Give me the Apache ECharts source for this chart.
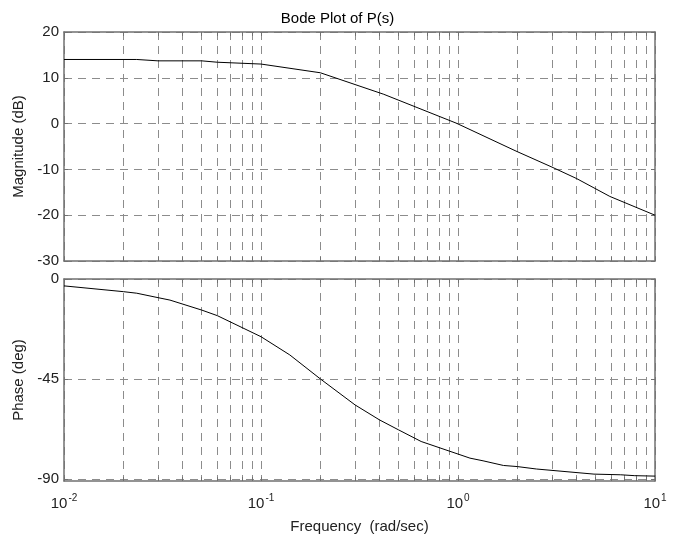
<!DOCTYPE html>
<html lang="en">
<head>
    <meta charset="UTF-8"/>
    <title>Bode Plot of P(s)</title>
    <script src="https://cdn.jsdelivr.net/npm/echarts@6/dist/echarts.min.js"></script>
    <style>
        html, body { margin: 0; padding: 0; background: #fff; }
    </style>
</head>
<body>

<div id="main" style="width: 675px;height:537px;"></div>

<script type="text/javascript">
    // values
    var magFreq = [0.01, 0.0234, 0.03, 0.05, 0.06, 0.1, 0.2, 0.42, 0.98, 1.97, 3.0, 4.0, 5.9, 10];
    var magDb = [14.0, 14.0, 13.7, 13.7, 13.4, 13.0, 11.1, 6.4, 0.1, -6.0, -9.5, -12.0, -15.9, -20.0];

    var phaseFreq = [0.01, 0.02, 0.0234, 0.03, 0.0345, 0.05, 0.06, 0.1, 0.14, 0.2, 0.3, 0.4, 0.5, 0.65,
        1.15, 1.34, 1.7, 2.0, 2.5, 4.9, 6.7, 7.9, 10];
    var phaseDeg = [-3.1, -5.7, -6.4, -8.4, -9.5, -14.0, -16.5, -26.0, -34.2, -45.0, -56.7, -63.5, -68.0, -73.2,
        -80.7, -81.9, -84.0, -84.5, -85.6, -87.9, -88.2, -88.6, -88.8];

    var freqTicks = [0.01, 0.02, 0.03, 0.04, 0.05, 0.06, 0.07, 0.08, 0.09,
        0.1, 0.2, 0.3, 0.4, 0.5, 0.6, 0.7, 0.8, 0.9,
        1, 2, 3, 4, 5, 6, 7, 8, 9, 10];
    var freqLabels = [0.01, 0.1, 1, 10];
    var magTicks = [-30, -20, -10, 0, 10, 20];
    var phaseTicks = [-90, -45, 0];

    var font = 'Liberation Sans, Arial, Helvetica, sans-serif';
    var frameColor = '#707070';
    var gridColor = '#8c8c8c';
    var textColor = '#222';

    function pairs(xs, ys) {
        var out = [];
        for (var i = 0; i < xs.length; i++) out.push([xs[i], ys[i]]);
        return out;
    }

    function xAxis(gridIndex, position, labels) {
        return {
            type: 'log',
            logBase: 10,
            gridIndex: gridIndex,
            position: position,
            min: 0.01,
            max: 10,
            axisLine: { show: true, onZero: false, lineStyle: { color: frameColor, width: 1.5 } },
            axisTick: { show: true, inside: true, length: 4, customValues: freqTicks,
                lineStyle: { color: frameColor } },
            axisLabel: {
                show: labels,
                customValues: freqLabels,
                margin: 12,
                formatter: function (v) {
                    return '{b|10}{sup|' + Math.round(Math.log10(v)) + '}';
                },
                rich: {
                    b: { fontSize: 15, fontFamily: font, color: textColor, lineHeight: 18, verticalAlign: 'bottom' },
                    sup: { fontSize: 10, fontFamily: font, color: textColor, lineHeight: 18, verticalAlign: 'top', padding: [0, 0, 8, 1] }
                }
            },
            splitLine: { show: position === 'bottom', lineStyle: { color: gridColor, type: [8, 6], width: 1 } },
            minorTick: { show: false },
            name: gridIndex === 1 && position === 'bottom' ? 'Frequency  (rad/sec)' : '',
            nameLocation: 'middle',
            nameGap: 38,
            nameTextStyle: { fontSize: 15, fontFamily: font, color: textColor }
        };
    }

    function yAxis(gridIndex, position, min, max, ticks, name) {
        return {
            type: 'value',
            gridIndex: gridIndex,
            position: position,
            min: min,
            max: max,
            axisLine: { show: true, onZero: false, lineStyle: { color: frameColor, width: 1.5 } },
            axisTick: { show: true, inside: true, length: 4, customValues: ticks,
                lineStyle: { color: frameColor } },
            axisLabel: { show: position === 'left', customValues: ticks, margin: 5,
                fontSize: 15, fontFamily: font, color: textColor },
            splitLine: { show: position === 'left', lineStyle: { color: gridColor, type: [8, 6], width: 1 } },
            name: position === 'left' ? name : '',
            nameLocation: 'middle',
            nameRotate: 90,
            nameGap: 36,
            nameTextStyle: { fontSize: 15, fontFamily: font, color: textColor }
        };
    }

    var myChart = echarts.init(document.getElementById('main'));

    var option = {
        animation: false,
        backgroundColor: '#fff',
        title: {
            text: 'Bode Plot of P(s)',
            left: 'center',
            top: 6,
            textStyle: { fontSize: 15, fontWeight: 'normal', fontFamily: font, color: '#000' }
        },
        grid: [
            { left: 64, right: 20, top: 32, height: 229 },
            { left: 64, right: 20, top: 279, height: 202 }
        ],
        xAxis: [
            xAxis(0, 'bottom', false),
            xAxis(0, 'top', false),
            xAxis(1, 'bottom', true),
            xAxis(1, 'top', false)
        ],
        yAxis: [
            yAxis(0, 'left', -30, 20, magTicks, 'Magnitude (dB)'),
            yAxis(0, 'right', -30, 20, magTicks, ''),
            yAxis(1, 'left', -91, 0, phaseTicks, 'Phase (deg)'),
            yAxis(1, 'right', -91, 0, phaseTicks, '')
        ],
        series: [
            {
                name: 'Magnitude',
                type: 'line',
                xAxisIndex: 0,
                yAxisIndex: 0,
                data: pairs(magFreq, magDb),
                showSymbol: false,
                lineStyle: { color: '#000', width: 1 }
            },
            {
                name: 'Phase',
                type: 'line',
                xAxisIndex: 2,
                yAxisIndex: 2,
                data: pairs(phaseFreq, phaseDeg),
                showSymbol: false,
                lineStyle: { color: '#000', width: 1 }
            }
        ]
    };

    myChart.setOption(option);
</script>
</body>
</html>
